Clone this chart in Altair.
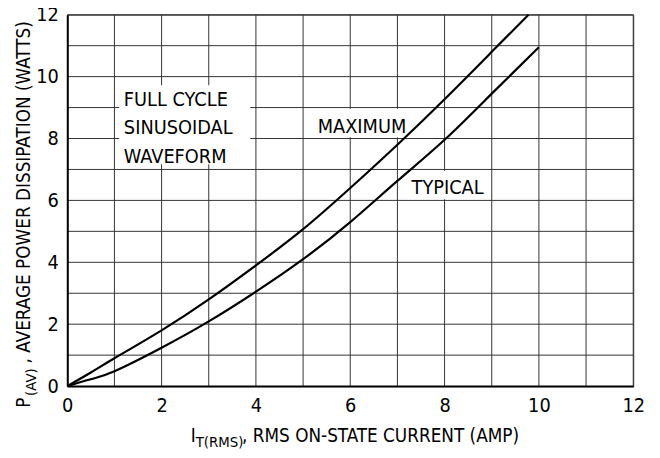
import altair as alt
import pandas as pd

FONT = "DejaVu Sans Condensed, DejaVu Sans, sans-serif"

# Curves
max_x = [0, 0.5, 1, 2, 3, 4, 5, 6, 7, 8, 9, 9.78]
max_y = [0, 0.44, 0.9, 1.8, 2.8, 3.9, 5.07, 6.4, 7.8, 9.27, 10.8, 12.0]
typ_x = [0, 0.5, 1, 2, 3, 4, 5, 6, 7, 8, 9, 10]
typ_y = [0, 0.22, 0.48, 1.24, 2.09, 3.05, 4.1, 5.3, 6.63, 7.96, 9.45, 10.95]

x_labels = [0, 2, 4, 6, 8, 10, 12]
y_labels = [0, 2, 4, 6, 8, 10, 12]
x_grid = list(range(1, 13))
y_grid = list(range(1, 13))

# In-plot notes (data coordinates)
note_text = ["FULL CYCLE", "SINUSOIDAL", "WAVEFORM", "MAXIMUM", "TYPICAL"]
note_x = [1.2, 1.2, 1.2, 5.31, 7.30]
note_y = [9.05, 8.13, 7.2, 8.17, 6.22]

# White backgrounds behind notes (data coordinates)
box_x = [1.1, 5.23, 7.2]
box_x2 = [3.88, 7.1, 8.83]
box_y = [7.17, 8.04, 6.04]
box_y2 = [9.72, 8.96, 6.96]

X_TITLE_MAIN = "I"
X_TITLE_SUB = "T(RMS)"
X_TITLE_REST = ", RMS ON-STATE CURRENT (AMP)"
Y_TITLE_MAIN = "P"
Y_TITLE_SUB = "(AV)"
Y_TITLE_REST = ", AVERAGE POWER DISSIPATION (WATTS)"

curves = pd.concat([
    pd.DataFrame({"I": max_x, "P": max_y, "curve": "MAXIMUM"}),
    pd.DataFrame({"I": typ_x, "P": typ_y, "curve": "TYPICAL"}),
], ignore_index=True)
notes = pd.DataFrame({"x": note_x, "y": note_y, "t": note_text})
boxes = pd.DataFrame({"x": box_x, "x2": box_x2, "y": box_y, "y2": box_y2})

xscale = alt.Scale(domain=[0, 12], nice=False, zero=False)
yscale = alt.Scale(domain=[0, 12], nice=False, zero=False)

common_axis = dict(
    ticks=False, grid=False, title=None, labelFontSize=20, labelFont=FONT,
    labelColor="black", domainColor="black", domainWidth=2,
    labelOverlap=False, labelFlush=False, zindex=1,
)
xaxis = alt.Axis(values=x_labels, labelPadding=10, **common_axis)
yaxis = alt.Axis(values=y_labels, labelPadding=9, **common_axis)

GRID_COLOR = "#333333"

xgrid_layer = alt.Chart(pd.DataFrame({"v": x_grid})).mark_rule(
    color=GRID_COLOR, strokeWidth=1
).encode(x=alt.X("v:Q", scale=xscale, axis=xaxis))

ygrid_layer = alt.Chart(pd.DataFrame({"v": y_grid})).mark_rule(
    color=GRID_COLOR, strokeWidth=1
).encode(y=alt.Y("v:Q", scale=yscale, axis=yaxis))

box_layer = alt.Chart(boxes).mark_rect(fill="white", strokeWidth=0).encode(
    x=alt.X("x:Q", scale=xscale, axis=xaxis),
    x2="x2:Q",
    y=alt.Y("y:Q", scale=yscale, axis=yaxis),
    y2="y2:Q",
)

line_layer = alt.Chart(curves).mark_line(
    color="black", strokeWidth=2.2, interpolate="natural"
).encode(
    x=alt.X("I:Q", scale=xscale, axis=xaxis),
    y=alt.Y("P:Q", scale=yscale, axis=yaxis),
    detail="curve:N",
    order="I:Q",
)

note_layer = alt.Chart(notes).mark_text(
    align="left", baseline="alphabetic", font=FONT, fontSize=20, color="black"
).encode(
    x=alt.X("x:Q", scale=xscale, axis=xaxis),
    y=alt.Y("y:Q", scale=yscale, axis=yaxis),
    text="t:N",
)

def txt(s, x, y, size, angle=0):
    return alt.Chart(pd.DataFrame({"t": [s]})).mark_text(
        align="left", baseline="alphabetic", font=FONT, fontSize=size,
        color="black", angle=angle,
    ).encode(x=alt.value(x), y=alt.value(y), text="t:N")

titles = [
    txt(X_TITLE_MAIN, 125, 433, 19),
    txt(X_TITLE_SUB, 130, 438, 15),
    txt(X_TITLE_REST, 177, 433, 19),
    txt(Y_TITLE_MAIN, -38, 398, 19, 270),
    txt(Y_TITLE_SUB, -32, 386, 15, 270),
    txt(Y_TITLE_REST, -38, 353, 19, 270),
]

chart = alt.layer(
    xgrid_layer, ygrid_layer, box_layer, line_layer, note_layer, *titles
).properties(
    width=573, height=376,
    autosize=alt.AutoSizeParams(type="none"),
    padding={"left": 60, "top": 4, "right": 19, "bottom": 70},
).configure_view(stroke=GRID_COLOR, strokeWidth=1)

chart.save("out.html", embed_options={"renderer": "svg", "actions": False})
